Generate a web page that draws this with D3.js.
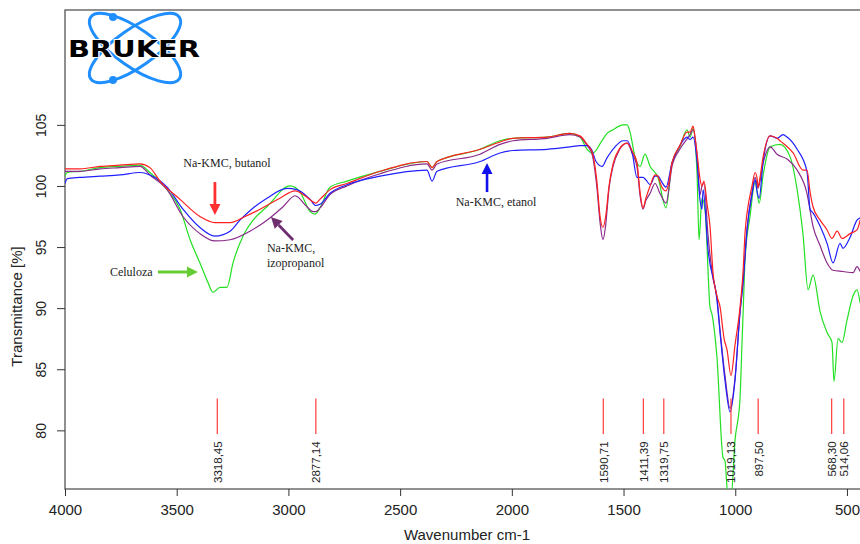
<!DOCTYPE html>
<html>
<head>
<meta charset="utf-8">
<script src="https://cdn.jsdelivr.net/npm/d3@7"></script>
<style>
  body { margin: 0; background: #fff; }
  svg { display: block; font-family: "Liberation Sans", Arial, sans-serif; }
</style>
</head>
<body>
<div id="chart"></div>
<script>
// ---------------------------
// DATA (wavenumber cm-1, transmittance %)
// ---------------------------
const butanol = [
  [4000,101.4],[3933,101.4],[3843,101.6],[3754,101.7],[3664,101.8],[3620,101.5],[3575,100.4],
  [3485,98.9],[3396,97.5],[3329,97.0],[3261,97.0],[3194,97.5],[3127,98.1],[3038,99.0],
  [2970,99.6],[2926,99.2],[2890,98.7],[2877,98.6],[2859,98.9],[2814,99.7],[2738,100.2],
  [2590,101.2],[2380,102.0],[2357,101.5],[2335,102.0],[2142,103.0],[2053,103.6],[1995,103.9],
  [1842,104.0],[1740,104.3],[1695,104.1],[1663,103.4],[1641,102.8],[1620,100.5],[1605,97.5],
  [1592,96.6],[1580,97.5],[1565,100.0],[1547,101.8],[1520,103.0],[1484,103.5],[1460,102.8],
  [1440,101.9],[1426,99.5],[1413,98.2],[1400,99.0],[1381,100.0],[1359,100.9],[1346,100.8],
  [1337,100.3],[1328,99.9],[1310,99.6],[1295,100.5],[1283,101.9],[1248,103.3],[1216,104.4],
  [1202,104.4],[1189,104.9],[1180,104.0],[1171,102.7],[1158,100.6],[1149,100.0],[1140,100.4],
  [1126,98.5],[1113,96.7],[1100,93.0],[1082,91.0],[1068,90.1],[1050,87.5],[1037,86.6],
  [1019,84.5],[1001,87.0],[979,90.0],[965,93.0],[956,96.2],[947,97.8],[925,100.0],[911,101.1],
  [902,100.6],[898,99.9],[890,100.6],[875,102.4],[844,104.1],[813,103.9],[800,103.7],
  [786,103.5],[741,102.7],[697,101.3],[679,101.3],[665,99.5],[652,98.3],[620,97.2],[589,96.4],
  [567,95.7],[544,96.3],[522,95.7],[486,96.1],[455,96.4],[441,97.2]
];

const etanol = [
  [4000,100.2],[3990,100.6],[3933,100.7],[3843,100.8],[3754,100.9],[3664,101.1],[3620,100.9],
  [3543,99.9],[3472,98.1],[3396,96.6],[3329,95.9],[3261,96.3],[3217,97.2],[3158,98.2],
  [3096,99.0],[3006,99.8],[2962,99.7],[2903,98.9],[2877,98.4],[2859,98.5],[2814,99.4],
  [2738,100.1],[2590,100.8],[2380,101.3],[2357,100.4],[2335,101.2],[2142,102.0],[2053,102.7],
  [1995,102.9],[1842,103.0],[1740,103.2],[1695,103.3],[1663,103.3],[1641,102.9],[1623,102.0],
  [1596,101.6],[1574,102.3],[1538,103.2],[1502,103.7],[1484,103.7],[1460,102.6],[1440,100.7],
  [1413,100.7],[1400,100.5],[1381,100.1],[1359,100.8],[1346,100.8],[1328,100.3],[1310,99.9],
  [1283,101.9],[1248,103.3],[1216,104.0],[1202,103.8],[1189,104.0],[1171,102.0],[1158,98.9],
  [1149,98.1],[1144,99.7],[1122,94.8],[1082,90.7],[1068,88.0],[1046,84.1],[1023,81.5],
  [1001,84.1],[979,89.6],[965,92.0],[947,96.5],[925,99.3],[911,100.5],[902,99.5],[893,99.0],
  [875,102.0],[844,104.1],[813,103.9],[786,104.2],[768,104.0],[723,103.0],[679,101.2],
  [665,98.1],[652,97.8],[620,96.7],[589,95.3],[562,93.7],[531,95.3],[518,94.9],[486,95.8],
  [455,97.2],[441,97.4]
];

const izopropanol = [
  [4000,101.2],[3933,101.2],[3843,101.4],[3754,101.5],[3664,101.6],[3620,100.9],[3543,99.7],
  [3472,97.5],[3396,96.1],[3329,95.5],[3261,95.6],[3172,96.3],[3096,97.2],[3024,98.3],
  [2970,99.2],[2917,98.3],[2890,97.9],[2877,97.9],[2859,98.2],[2814,99.3],[2738,100.0],
  [2590,101.0],[2380,101.8],[2357,101.3],[2335,101.8],[2142,102.6],[2053,103.4],[1995,103.7],
  [1842,103.9],[1740,104.2],[1695,104.0],[1663,103.3],[1641,102.6],[1620,100.0],[1605,97.0],
  [1592,95.6],[1580,96.8],[1565,99.8],[1547,101.6],[1520,102.9],[1484,103.5],[1460,102.6],
  [1440,101.6],[1426,99.2],[1413,98.1],[1400,98.8],[1381,99.4],[1359,100.2],[1337,99.4],
  [1310,98.6],[1283,101.6],[1248,103.0],[1202,104.2],[1189,104.6],[1171,102.5],[1158,99.3],
  [1149,100.0],[1140,100.2],[1122,96.0],[1100,92.5],[1082,90.9],[1068,88.2],[1046,84.5],
  [1023,81.8],[1001,84.3],[979,89.6],[965,92.3],[947,96.5],[925,99.5],[911,100.7],[898,99.8],
  [875,101.9],[844,103.2],[813,102.6],[768,102.2],[723,101.3],[679,99.4],[652,96.7],
  [620,95.1],[589,93.7],[562,93.1],[518,93.0],[473,92.9],[455,93.4],[441,93.0]
];

const celuloza = [
  [4000,100.8],[3990,101.1],[3933,101.2],[3843,101.5],[3754,101.6],[3664,101.7],[3620,101.1],
  [3543,99.7],[3485,98.1],[3440,95.6],[3396,93.7],[3360,92.1],[3338,91.3],[3306,91.7],
  [3275,91.7],[3248,93.7],[3203,95.9],[3158,97.2],[3096,98.3],[2993,100.0],[2948,99.5],
  [2903,97.9],[2881,97.7],[2859,98.2],[2814,99.9],[2738,100.4],[2590,101.2],[2380,102.0],
  [2357,101.5],[2335,102.0],[2142,103.0],[2053,103.7],[1995,103.9],[1842,104.0],[1740,104.3],
  [1695,104.0],[1663,103.0],[1637,102.7],[1600,103.6],[1574,104.3],[1547,104.6],[1502,105.0],
  [1484,105.0],[1471,104.4],[1449,102.4],[1426,101.6],[1404,102.6],[1381,101.6],[1346,100.7],
  [1310,98.2],[1283,101.9],[1248,103.2],[1216,104.6],[1202,104.0],[1189,104.7],[1171,101.0],
  [1162,95.6],[1149,99.0],[1135,98.0],[1113,90.1],[1104,89.5],[1082,86.0],[1055,77.8],
  [1046,77.5],[1032,74.5],[1019,74.5],[1001,79.2],[979,82.5],[970,87.0],[965,89.5],[956,94.0],
  [934,97.5],[911,100.3],[893,98.6],[875,100.9],[844,103.2],[800,103.4],[755,102.4],
  [723,99.7],[697,96.1],[674,91.5],[652,92.7],[620,89.7],[589,88.0],[567,87.2],[558,84.0],
  [540,87.5],[522,87.2],[500,89.0],[473,91.0],[455,91.5],[441,90.4]
];

const xTicks = [4000, 3500, 3000, 2500, 2000, 1500, 1000, 500];
const yTicks = [80, 85, 90, 95, 100, 105];
const peaks = [3318.45, 2877.14, 1590.71, 1411.39, 1319.75, 1019.13, 897.50, 568.30, 514.06];
const peakLabels = ["3318,45", "2877,14", "1590,71", "1411,39", "1319,75", "1019,13", "897,50", "568,30", "514,06"];

// ---------------------------
// SETUP
// ---------------------------
const width = 860, height = 544;
const plotLeft = 65, plotTop = 10, plotBottom = 489;

const svg = d3.select("#chart").append("svg")
  .attr("width", width)
  .attr("height", height);

const x = d3.scaleLinear().domain([4000, 400]).range([plotLeft, 869.3]);
const y = d3.scaleLinear().domain([75.2, 114.4]).range([plotBottom, plotTop]);

svg.append("defs").append("clipPath").attr("id", "plot-clip")
  .append("rect")
  .attr("x", plotLeft).attr("y", plotTop)
  .attr("width", x(400) - plotLeft).attr("height", plotBottom - plotTop);

// frame
svg.append("rect")
  .attr("x", plotLeft).attr("y", plotTop)
  .attr("width", x(400) - plotLeft).attr("height", plotBottom - plotTop)
  .attr("fill", "none")
  .attr("stroke", "#555")
  .attr("stroke-width", 1.3);

// x axis
const xAxis = svg.append("g")
  .attr("transform", `translate(0,${plotBottom})`)
  .call(d3.axisBottom(x).tickValues(xTicks).tickSize(7).tickFormat(d3.format("d")));
xAxis.select(".domain").remove();
xAxis.selectAll("line").attr("stroke", "#333");
xAxis.selectAll("text")
  .attr("y", 26).attr("dy", 0)
  .attr("fill", "#222")
  .style("font-size", "15px")
  .style("font-family", "'Liberation Sans', Arial, sans-serif");

// y axis
const yAxis = svg.append("g")
  .attr("transform", `translate(${plotLeft},0)`)
  .call(d3.axisLeft(y).tickValues(yTicks).tickSize(8));
yAxis.select(".domain").remove();
yAxis.selectAll("line").attr("stroke", "#333");
yAxis.selectAll("text")
  .attr("transform", "rotate(-90)")
  .attr("x", 0).attr("y", -19).attr("dy", 0)
  .attr("text-anchor", "middle")
  .attr("fill", "#222")
  .style("font-size", "14px")
  .style("font-family", "'Liberation Sans', Arial, sans-serif");

svg.append("text")
  .attr("transform", `translate(22,${(plotTop + plotBottom) / 2 + 57}) rotate(-90)`)
  .attr("text-anchor", "middle")
  .attr("fill", "#222")
  .style("font-size", "15px")
  .text("Transmittance [%]");

svg.append("text")
  .attr("x", 467).attr("y", 540)
  .attr("text-anchor", "middle")
  .attr("fill", "#222")
  .style("font-size", "15px")
  .text("Wavenumber cm-1");

// ---------------------------
// SPECTRA
// ---------------------------
const line = d3.line()
  .x(d => x(d[0]))
  .y(d => y(d[1]))
  .curve(d3.curveMonotoneX);

const series = [
  { data: celuloza, color: "#22e022" },
  { data: izopropanol, color: "#8a2a8a" },
  { data: etanol, color: "#2020ff" },
  { data: butanol, color: "#ff2020" }
];

const plot = svg.append("g").attr("clip-path", "url(#plot-clip)");
plot.selectAll("path.spectrum")
  .data(series)
  .enter().append("path")
  .attr("class", "spectrum")
  .attr("d", d => line(d.data))
  .attr("fill", "none")
  .attr("stroke", d => d.color)
  .attr("stroke-width", 1.2)
  .attr("stroke-linejoin", "round");

// peak markers
const peakG = svg.append("g");
peakG.selectAll("line")
  .data(peaks)
  .enter().append("line")
  .attr("x1", d => x(d)).attr("x2", d => x(d))
  .attr("y1", y(82.6)).attr("y2", y(79.7))
  .attr("stroke", "#ff2a2a")
  .attr("stroke-width", 1.1);

peakG.selectAll("text")
  .data(peaks)
  .enter().append("text")
  .attr("transform", d => `translate(${x(d) + 4.5},${y(79.1)}) rotate(-90)`)
  .attr("text-anchor", "end")
  .attr("fill", "#222")
  .style("font-size", "11.5px")
  .text((d, i) => peakLabels[i]);

// ---------------------------
// ANNOTATIONS
// ---------------------------
function arrow(x1, y1, x2, y2, color, w) {
  const ang = Math.atan2(y2 - y1, x2 - x1);
  const len = 11, half = 5.5;
  const bx = x2 - len * Math.cos(ang), by = y2 - len * Math.sin(ang);
  svg.append("line")
    .attr("x1", x1).attr("y1", y1).attr("x2", bx).attr("y2", by)
    .attr("stroke", color).attr("stroke-width", w);
  const px = -Math.sin(ang) * half, py = Math.cos(ang) * half;
  svg.append("path")
    .attr("d", `M${x2},${y2}L${bx + px},${by + py}L${bx - px},${by - py}Z`)
    .attr("fill", color);
}

function note(wn, val, str, anchor) {
  svg.append("text")
    .attr("x", x(wn)).attr("y", y(val))
    .attr("text-anchor", anchor)
    .attr("fill", "#222")
    .style("font-family", "'Liberation Serif', 'Times New Roman', serif")
    .style("font-size", "12px")
    .text(str);
}

note(3275, 101.55, "Na-KMC, butanol", "middle");
arrow(x(3329), y(100.32), x(3329), y(97.62), "#ff3030", 2.8);

note(2071, 98.36, "Na-KMC, etanol", "middle");
arrow(x(2111), y(99.5), x(2111), y(101.88), "#1010ee", 2.6);

note(3096, 94.6, "Na-KMC,", "start");
note(3096, 93.37, "izopropanol", "start");
arrow(x(2979), y(95.58), x(3078), y(97.46), "#6e2e70", 2.8);

note(3799, 92.63, "Celuloza", "start");
arrow(x(3584), y(92.96), x(3405), y(92.96), "#66cc33", 3);

// ---------------------------
// LOGO
// ---------------------------
const logo = svg.append("g").attr("transform", "translate(135,48)");
[35, -35].forEach(a => {
  logo.append("ellipse")
    .attr("rx", 54).attr("ry", 19)
    .attr("transform", `rotate(${a})`)
    .attr("fill", "none")
    .attr("stroke", "#1f8fff")
    .attr("stroke-width", 3);
});
logo.append("circle").attr("cx", -22).attr("cy", -31).attr("r", 4).attr("fill", "#1f8fff");
logo.append("circle").attr("cx", -22).attr("cy", 32).attr("r", 4).attr("fill", "#1f8fff");
logo.append("text")
  .attr("x", -67).attr("y", 9)
  .attr("textLength", 132)
  .attr("lengthAdjust", "spacingAndGlyphs")
  .attr("fill", "#000")
  .attr("stroke", "#fff")
  .attr("stroke-width", 2)
  .attr("paint-order", "stroke")
  .style("font-family", "'DejaVu Sans', sans-serif")
  .style("font-weight", "bold")
  .style("font-size", "23px")
  .text("BRUKER");
</script>
</body>
</html>
